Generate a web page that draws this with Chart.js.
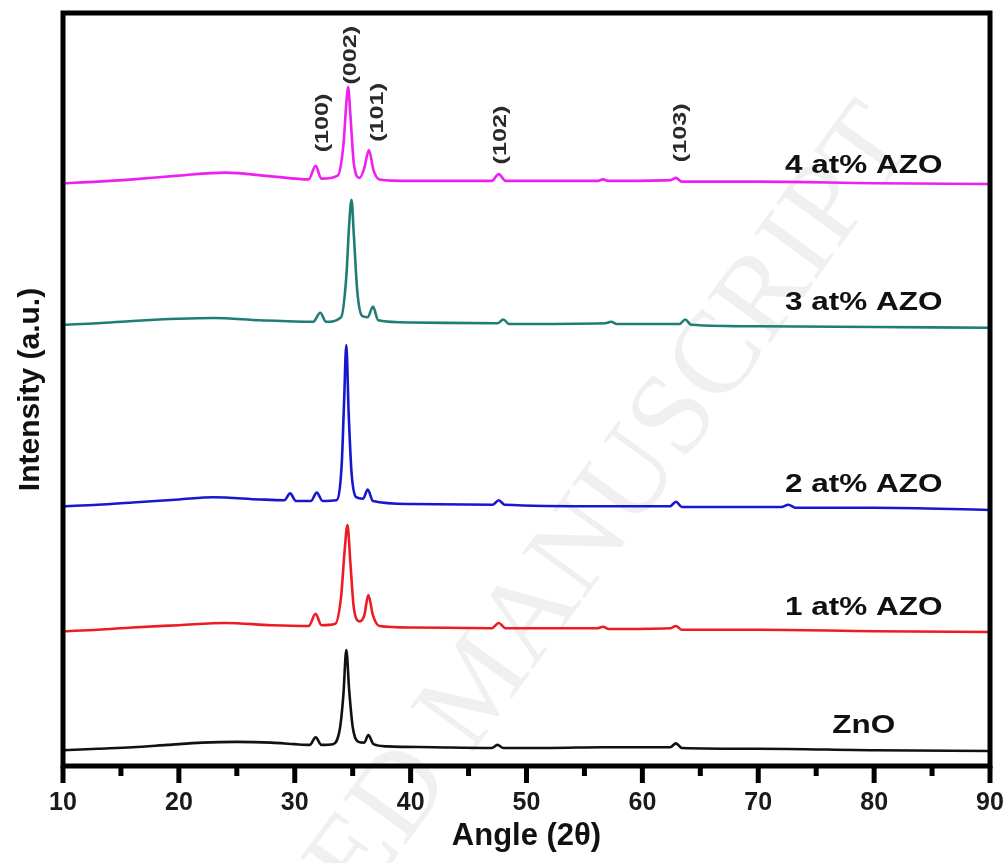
<!DOCTYPE html>
<html>
<head>
<meta charset="utf-8">
<script src="https://cdn.jsdelivr.net/npm/chart.js@4.4.0/dist/chart.umd.min.js"></script>
<style>
  html, body { margin: 0; padding: 0; background: #fff; }
  #xrd { display: block; }
</style>
</head>
<body>
<canvas id="xrd" width="1008" height="863"></canvas>
<script>
// samples, bottom to top
const sampleNames = ['ZnO', '1 at% AZO', '2 at% AZO', '3 at% AZO', '4 at% AZO'];

// patterns: [2θ, intensity (a.u., stacking offset included)]
const znoPattern = [
  [10, 21], [13, 23], [16, 25], [19, 28], [22, 31], [25, 32], [28, 31], [30, 29], [31.3, 28],
  [31.8, 38], [32.3, 28], [33.3, 29], [33.9, 50], [34.2, 95], [34.45, 154], [34.7, 100],
  [35.0, 52], [35.5, 32], [36.0, 31], [36.35, 41], [36.8, 29], [38, 26], [42, 25], [47.0, 24],
  [47.5, 28], [48.0, 24], [52, 24], [56.6, 25], [60, 25], [62.4, 25], [62.9, 30], [63.4, 24],
  [70, 23], [80, 21], [90, 20]
];
const azo1Pattern = [
  [10, 179], [13, 181], [16, 184], [20, 187], [24, 190], [28, 187], [31.2, 186], [31.8, 202],
  [32.3, 187], [33.5, 189], [34.0, 225], [34.3, 285], [34.55, 320], [34.8, 270], [35.1, 210],
  [35.6, 192], [36.0, 200], [36.35, 227], [36.75, 200], [37.3, 186], [40, 184], [47.0, 183],
  [47.6, 190], [48.2, 183], [56.1, 183], [56.6, 185], [57.1, 182], [62.4, 183], [62.9, 186],
  [63.4, 181], [70, 181], [80, 179], [90, 178]
];
const azo2Pattern = [
  [10, 345], [13, 347], [16, 350], [20, 354], [23, 357], [27, 354], [29.1, 353], [29.6, 362],
  [30.1, 352], [31.4, 352], [31.9, 363], [32.4, 352], [33.6, 353], [34.05, 400], [34.25, 480],
  [34.45, 559], [34.65, 470], [34.9, 390], [35.3, 357], [35.9, 355], [36.3, 367], [36.75, 352],
  [40, 348], [47.1, 347], [47.6, 353], [48.1, 347], [56.6, 345], [62.4, 345], [62.9, 351],
  [63.4, 344], [70, 344], [72, 344], [72.6, 347], [73.2, 343], [80, 343], [90, 340]
];
const azo3Pattern = [
  [10, 586], [13, 588], [16, 591], [20, 594], [23, 595], [27, 592], [31.6, 590], [32.2, 602],
  [32.7, 590], [34.0, 596], [34.45, 650], [34.7, 720], [34.9, 752], [35.1, 705], [35.4, 630],
  [35.8, 598], [36.3, 596], [36.75, 610], [37.2, 592], [40, 589], [47.5, 588], [48.0, 593],
  [48.5, 587], [56.8, 588], [57.3, 590], [57.8, 587], [63.2, 587], [63.7, 593], [64.2, 586],
  [70, 584], [80, 583], [90, 582]
];
const azo4Pattern = [
  [10, 774], [13, 776], [16, 779], [20, 784], [24, 788], [28, 783], [31.2, 779], [31.8, 797],
  [32.3, 780], [33.7, 784], [34.2, 825], [34.45, 880], [34.6, 902], [34.8, 865], [35.1, 800],
  [35.6, 781], [36.0, 794], [36.4, 818], [36.8, 791], [37.3, 779], [40, 777], [47.0, 777],
  [47.6, 786], [48.2, 777], [56.1, 777], [56.6, 779], [57.1, 777], [62.4, 778], [62.9, 781],
  [63.4, 776], [70, 776], [80, 774], [90, 773]
];

// reflections marked above the top pattern
const hklLabels = ['(100)', '(002)', '(101)', '(102)', '(103)'];
const xTicks = [10, 20, 30, 40, 50, 60, 70, 80, 90];

const lineColors = ['#111111', '#ec1c24', '#1717cf', '#1f7d76', '#ee1ff0'];
const patterns = [znoPattern, azo1Pattern, azo2Pattern, azo3Pattern, azo4Pattern];

const toPoints = arr => arr.map(p => ({ x: p[0], y: p[1] }));

// extra drawing: frame, outward ticks, sample names, hkl labels, watermark
const decor = {
  id: 'decor',
  beforeDraw(chart) {
    const { ctx, width, height } = chart;
    ctx.save();
    ctx.fillStyle = '#fff';
    ctx.fillRect(0, 0, width, height);
    // faint "accepted manuscript" stamp
    ctx.translate(590, 470);
    ctx.rotate(-54 * Math.PI / 180);
    ctx.font = '118px "Liberation Serif", serif';
    ctx.textAlign = 'center';
    ctx.textBaseline = 'middle';
    ctx.fillStyle = 'rgba(0,0,0,0.06)';
    ctx.fillText('ACCEPTED MANUSCRIPT', -240, 40);
    ctx.restore();
  },
  afterDraw(chart) {
    const { ctx, chartArea: a, scales: { x, y } } = chart;
    ctx.save();
    ctx.strokeStyle = '#000';
    ctx.lineWidth = 5;
    ctx.strokeRect(a.left, a.top, a.right - a.left, a.bottom - a.top);

    // major and minor ticks, pointing out of the frame
    for (let v = 10; v <= 90; v += 5) {
      const px = x.getPixelForValue(v);
      const len = v % 10 === 0 ? 17 : 10;
      ctx.beginPath();
      ctx.moveTo(px, a.bottom);
      ctx.lineTo(px, a.bottom + len);
      ctx.stroke();
    }

    // sample names
    const nameY = [44, 200, 364, 606, 787];
    ctx.fillStyle = '#111';
    ctx.font = 'bold 25px "Liberation Sans", Arial, sans-serif';
    ctx.textAlign = 'center';
    ctx.textBaseline = 'alphabetic';
    sampleNames.forEach((name, i) => {
      ctx.save();
      ctx.translate(x.getPixelForValue(79.1), y.getPixelForValue(nameY[i]));
      ctx.scale(1.26, 1);
      ctx.fillText(name, 0, 0);
      ctx.restore();
    });

    // hkl labels, rotated
    const hklAt = [[32.45, 854], [34.9, 944], [37.2, 868], [47.8, 838], [63.3, 841]];
    ctx.font = 'bold 18px "Liberation Sans", Arial, sans-serif';
    ctx.fillStyle = '#2a2a2a';
    ctx.textBaseline = 'middle';
    hklLabels.forEach((t, i) => {
      ctx.save();
      ctx.translate(x.getPixelForValue(hklAt[i][0]), y.getPixelForValue(hklAt[i][1]));
      ctx.rotate(-Math.PI / 2);
      ctx.scale(1.4, 1);
      ctx.fillText(t, 0, 0);
      ctx.restore();
    });
    ctx.restore();
  }
};

new Chart(document.getElementById('xrd'), {
  type: 'line',
  data: {
    datasets: patterns.map((p, i) => ({
      label: sampleNames[i],
      data: toPoints(p),
      borderColor: lineColors[i],
      borderWidth: 2.6,
      pointRadius: 0,
      fill: false,
      cubicInterpolationMode: 'monotone'
    }))
  },
  options: {
    responsive: false,
    animation: false,
    devicePixelRatio: 1,
    layout: { padding: { top: 13, right: 0, left: 0, bottom: 0 } },
    plugins: { legend: { display: false }, tooltip: { enabled: false } },
    scales: {
      x: {
        type: 'linear',
        min: 10,
        max: 90,
        afterBuildTicks: scale => { scale.ticks = xTicks.map(v => ({ value: v })); },
        ticks: {
          color: '#1a1a1a',
          padding: 22,
          maxRotation: 0,
          font: { family: '"Liberation Sans", Arial, sans-serif', size: 25, weight: 'bold' }
        },
        grid: { display: false, drawTicks: false },
        border: { display: false },
        title: {
          display: true,
          text: 'Angle (2θ)',
          color: '#111',
          padding: { top: 0, bottom: 8 },
          font: { family: '"Liberation Sans", Arial, sans-serif', size: 31, weight: 'bold' }
        },
        afterFit: scale => {
          scale.height = 97;
          scale.paddingLeft = 0;
          scale.paddingRight = 18;
        }
      },
      y: {
        min: 0,
        max: 1000,
        ticks: { display: false },
        grid: { display: false, drawTicks: false },
        border: { display: false },
        title: {
          display: true,
          text: 'Intensity (a.u.)',
          color: '#111',
          padding: { top: 13, bottom: 0 },
          font: { family: '"Liberation Sans", Arial, sans-serif', size: 30, weight: 'bold' }
        },
        afterFit: scale => { scale.width = 63; }
      }
    }
  },
  plugins: [decor]
});
</script>
</body>
</html>
